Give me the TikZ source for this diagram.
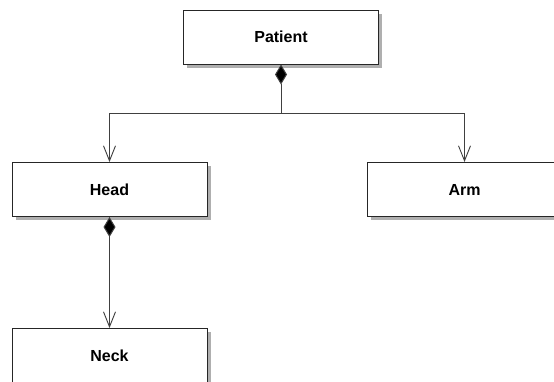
\documentclass[tikz,border=0pt]{standalone}
\usepackage{fontspec}
\setmainfont{Liberation Sans}
\usetikzlibrary{arrows.meta,shadows}
\definecolor{edgegray}{RGB}{64,64,64}
\definecolor{shadegray}{RGB}{175,175,175}
\begin{document}
\begin{tikzpicture}[x=1pt,y=-1pt,
  classbox/.style={draw=black!85,fill=white,line width=1pt,minimum width=195pt,
    minimum height=54pt,inner sep=0pt,font=\fontsize{16}{19}\selectfont\bfseries,
    drop shadow={shadow xshift=3.5pt,shadow yshift=-3.5pt,fill=shadegray,opacity=1}},
  link/.style={draw=edgegray,line width=1pt},
  openhead/.style={-{Straight Barb[length=15pt,width=12pt,line width=0.9pt]}},
  compose/.style={link,{Diamond[length=20pt,width=12pt,fill=black]}-{Straight Barb[length=15pt,width=12pt,line width=0.9pt]}}]
\useasboundingbox (0,0) rectangle (554,381);
\clip (0,0) rectangle (554,381);
% classes
\node[classbox] (patient) at (281,37) {Patient};
\node[classbox] (head) at (109.5,189.5) {Head};
\node[classbox] (arm) at (464.5,189.5) {Arm};
\node[classbox] (neck) at (109.5,355.5) {Neck};
% junction under Patient
\coordinate (split) at (281,113);
% composition links
\draw[compose] (patient.south) -- (split) -| (head.north);
\draw[link,openhead] (split) -| (arm.north);
\draw[compose] (head.south) -- (neck.north);
\end{tikzpicture}
\end{document}
